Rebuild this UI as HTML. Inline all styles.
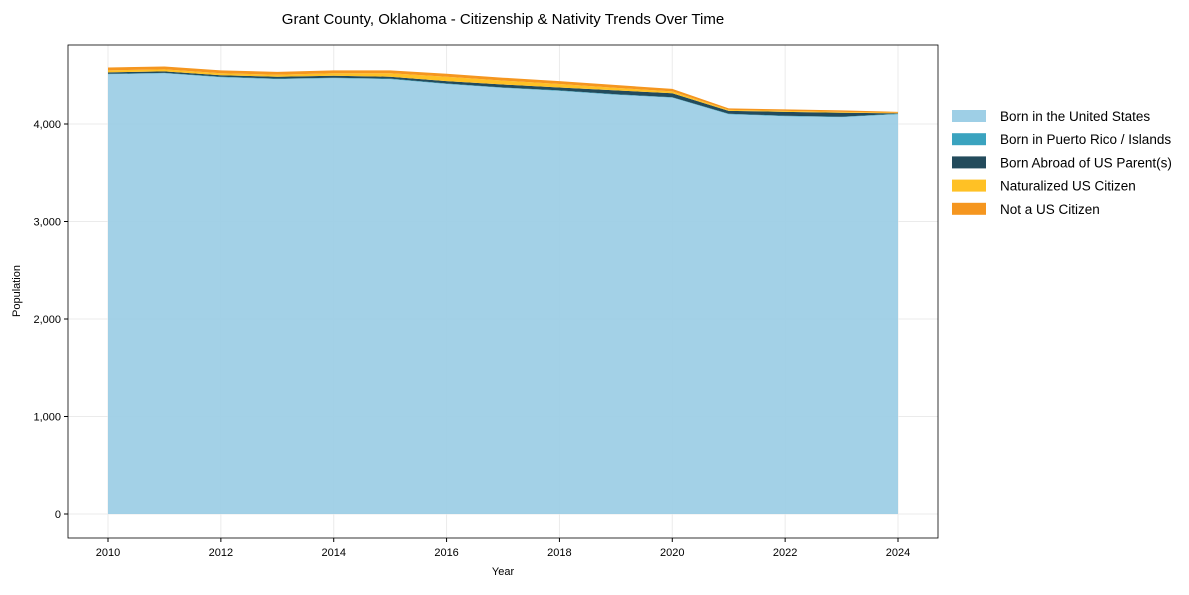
<!DOCTYPE html>
<html><head><meta charset="utf-8"><style>
body{margin:0;background:#fff;font-family:"Liberation Sans",Arial,sans-serif}
</style></head><body>
<svg id="c" width="1189" height="590" font-family="Liberation Sans, Arial, sans-serif"></svg>
<script>
const years=[2010,2011,2012,2013,2014,2015,2016,2017,2018,2019,2020,2021,2022,2023,2024];
const bornUS=[4510,4520,4480,4460,4470,4460,4410,4370,4340,4300,4270,4100,4080,4070,4100];
const bornPR=[5,5,5,5,5,5,5,5,5,5,5,5,5,5,5];
const bornAbroad=[15,15,15,20,20,20,25,30,30,40,40,30,40,40,5];
const naturalized=[20,20,20,20,25,35,45,40,35,25,20,10,10,10,5];
const notCitizen=[30,30,30,30,30,30,30,30,30,30,25,15,15,15,10];
const yTicks=[0,1000,2000,3000,4000];
const yTickLabels=["0","1,000","2,000","3,000","4,000"];
const xTicks=[2010,2012,2014,2016,2018,2020,2022,2024];
const seriesNames=["Born in the United States","Born in Puerto Rico / Islands","Born Abroad of US Parent(s)","Naturalized US Citizen","Not a US Citizen"];
const colors=["#9ecfe6","#3aa3bf","#234b5c","#ffc125","#f5961f"];
const svg=document.getElementById('c');const NS='http://www.w3.org/2000/svg';
function mk(t,a,p){const e=document.createElementNS(NS,t);for(const k in a)e.setAttribute(k,a[k]);(p||svg).appendChild(e);return e;}
const L=68,R=938,T=45,B=538;
const x=v=>108+(v-2010)*(898-108)/14;
const y=v=>514-v*(514-124)/4000;
const g=mk('g',{});
xTicks.forEach(t=>mk('line',{x1:x(t),x2:x(t),y1:T,y2:B,stroke:'#ebebeb'},g));
yTicks.forEach(t=>mk('line',{x1:L,x2:R,y1:y(t),y2:y(t),stroke:'#ebebeb'},g));
const series=[bornUS,bornPR,bornAbroad,naturalized,notCitizen];
let base=years.map(()=>0);
series.forEach((s,i)=>{const top=base.map((b,j)=>b+s[j]);
let d='M'+years.map((yr,j)=>x(yr)+','+y(top[j])).join('L');
for(let j=years.length-1;j>=0;j--)d+='L'+x(years[j])+','+y(base[j]);
const p=mk('path',{d:d+'Z',fill:colors[i],'fill-opacity':i==0?0.95:1});
base=top;});
mk('rect',{x:L,y:T,width:R-L,height:B-T,fill:'none',stroke:'#000','stroke-width':0.8});
yTicks.forEach((t,i)=>{mk('line',{x1:L-4,x2:L,y1:y(t),y2:y(t),stroke:'#000'});
const e=mk('text',{x:L-7,y:y(t)+4,'text-anchor':'end','font-size':11});e.textContent=yTickLabels[i];
});
xTicks.forEach(t=>{mk('line',{x1:x(t),x2:x(t),y1:B,y2:B+4,stroke:'#000'});
const e=mk('text',{x:x(t),y:B+18,'text-anchor':'middle','font-size':11});e.textContent=t;
});
let e=mk('text',{x:503,y:575,'text-anchor':'middle','font-size':11});e.textContent='Year';
e=mk('text',{x:20,y:291,'text-anchor':'middle','font-size':11,transform:'rotate(-90 20 291)'});e.textContent='Population';
e=mk('text',{x:503,y:24,'text-anchor':'middle','font-size':15});e.textContent='Grant County, Oklahoma - Citizenship & Nativity Trends Over Time';
seriesNames.forEach((n,i)=>{const gy=116+i*23.2;const lg=mk('g',{});
mk('rect',{x:952,y:gy-6,width:34,height:12,fill:colors[i]},lg);
const t=mk('text',{x:1000,y:gy+5,'font-size':13.5},lg);t.textContent=n;});
</script>
</body></html>
